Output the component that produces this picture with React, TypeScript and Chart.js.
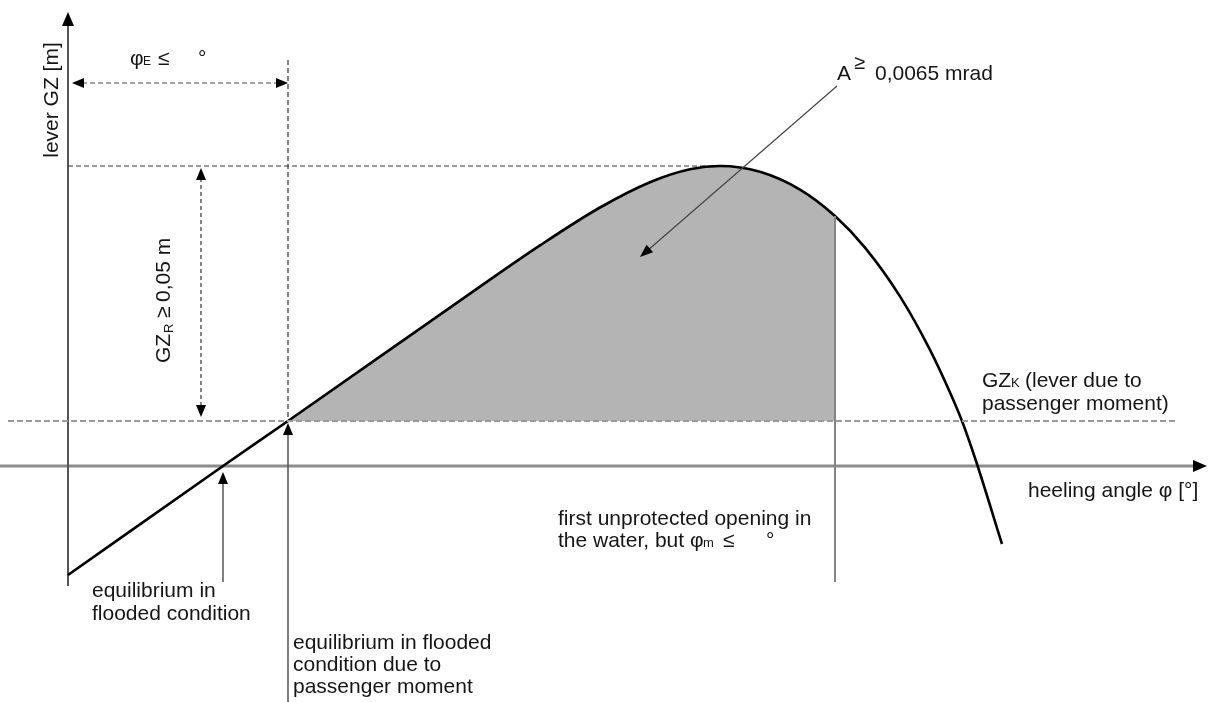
import React, { useEffect, useRef } from "react";
import { Chart, LineController, LineElement, PointElement, LinearScale, Filler } from "chart.js";

Chart.register(LineController, LineElement, PointElement, LinearScale);

// ---------- data (heeling angle in degrees, lever GZ in diagram units) ----------
const heelAngles = [0, 15.5, 22, 35.2, 41.2, 47.2, 53.2, 58.2, 62.2, 65.2, 69.2, 73.2, 76.7, 79.7, 83.2, 86.2, 88.2, 89.4, 90.8, 93.4];
const gzValues = [-1.09, 0, 0.45, 1.374, 1.794, 2.206, 2.585, 2.838, 2.967, 3.0, 2.942, 2.764, 2.5, 2.184, 1.696, 1.161, 0.735, 0.45, 0.05, -0.78];

const GZK_LEVEL = 0.45; // lever due to passenger moment
const PHI_0 = 15.5; // equilibrium in flooded condition
const PHI_E = 22; // equilibrium with passenger moment
const PHI_M = 76.7; // first unprotected opening
const GZ_MAX = 3.0;
const GZ_MAX_ANGLE = 65.2;

const X_MIN = -6.8;
const X_MAX = 114.1;
const Y_MIN = -2.36;
const Y_MAX = 4.66;

const FILL_INDEX = 1;

const FONT = '"Liberation Sans", Arial, Helvetica, sans-serif';
const font = (s: number) => `${s}px ${FONT}`;
const TEXT = "#151515";

function seg(ctx: CanvasRenderingContext2D, x1: number, y1: number, x2: number, y2: number, color: string, width: number, dash: number[] = []) {
  ctx.save();
  ctx.beginPath();
  ctx.setLineDash(dash);
  ctx.strokeStyle = color;
  ctx.lineWidth = width;
  ctx.moveTo(x1, y1);
  ctx.lineTo(x2, y2);
  ctx.stroke();
  ctx.restore();
}

function head(ctx: CanvasRenderingContext2D, tx: number, ty: number, dx: number, dy: number, len = 12, half = 5, color = "#000") {
  const n = Math.hypot(dx, dy);
  const ux = dx / n;
  const uy = dy / n;
  const bx = tx - ux * len;
  const by = ty - uy * len;
  ctx.save();
  ctx.beginPath();
  ctx.moveTo(tx, ty);
  ctx.lineTo(bx - uy * half, by + ux * half);
  ctx.lineTo(bx + uy * half, by - ux * half);
  ctx.closePath();
  ctx.fillStyle = color;
  ctx.fill();
  ctx.restore();
}

type Run = { t: string; at: number; size?: number; dy?: number };
function runs(ctx: CanvasRenderingContext2D, x: number, y: number, list: Run[]) {
  ctx.save();
  ctx.fillStyle = TEXT;
  ctx.textBaseline = "alphabetic";
  ctx.textAlign = "left";
  for (const r of list) {
    ctx.font = font(r.size ?? 21);
    ctx.fillText(r.t, x + r.at, y + (r.dy ?? 0));
  }
  ctx.restore();
}

const clipPlugin = {
  id: "areaClip",
  beforeDatasetDraw(chart: any, args: any) {
    if (args.index !== FILL_INDEX) return;
    const { ctx, chartArea } = chart;
    const x1 = chart.scales.x.getPixelForValue(PHI_E);
    const x2 = chart.scales.x.getPixelForValue(PHI_M);
    const yb = chart.scales.y.getPixelForValue(GZK_LEVEL);
    ctx.save();
    ctx.beginPath();
    ctx.rect(x1, chartArea.top, x2 - x1, yb - chartArea.top);
    ctx.clip();
  },
  afterDatasetDraw(chart: any, args: any) {
    if (args.index !== FILL_INDEX) return;
    chart.ctx.restore();
  },
};

const annotationPlugin = {
  id: "diagramAnnotations",
  beforeDatasetsDraw(chart: any) {
    const ctx: CanvasRenderingContext2D = chart.ctx;
    const X = (v: number) => chart.scales.x.getPixelForValue(v);
    const Y = (v: number) => chart.scales.y.getPixelForValue(v);
    // x axis
    seg(ctx, X(X_MIN), Y(0), X(113.9) - 10, Y(0), "#8c8c8c", 3);
    head(ctx, X(113.9), Y(0), 1, 0, 14, 6);
    // y axis
    seg(ctx, X(0), Y(-1.2), X(0), Y(4.54) + 10, "#555", 2);
    head(ctx, X(0), Y(4.54), 0, -1, 14, 6);
    // max lever dashed
    seg(ctx, X(0), Y(GZ_MAX), X(GZ_MAX_ANGLE), Y(GZ_MAX), "#333", 1.2, [5, 3]);
    // phi_E vertical dashed
    seg(ctx, X(PHI_E), Y(4.06), X(PHI_E), Y(GZK_LEVEL), "#333", 1.2, [5, 3]);
  },
  afterDatasetsDraw(chart: any) {
    const ctx: CanvasRenderingContext2D = chart.ctx;
    const X = (v: number) => chart.scales.x.getPixelForValue(v);
    const Y = (v: number) => chart.scales.y.getPixelForValue(v);

    // GZK dashed line
    seg(ctx, X(-6.0), Y(GZK_LEVEL), X(110.9), Y(GZK_LEVEL), "#9a9a9a", 2, [6, 3]);

    // first unprotected opening line
    const gzAtM = gzValues[heelAngles.indexOf(PHI_M)];
    seg(ctx, X(PHI_M), Y(gzAtM), X(PHI_M), Y(-1.16), "#858585", 2);

    // phi_E horizontal arrow
    seg(ctx, X(0) + 14, Y(3.83), X(PHI_E) - 12, Y(3.83), "#a5a5a5", 2, [5, 3]);
    head(ctx, X(0) + 4, Y(3.83), -1, 0, 12, 5);
    head(ctx, X(PHI_E), Y(3.83), 1, 0, 12, 5);

    // GZR vertical arrow
    const gx = X(13.3);
    seg(ctx, gx, Y(GZ_MAX) + 12, gx, Y(GZK_LEVEL) - 14, "#333", 1.2, [4, 3]);
    head(ctx, gx, Y(GZ_MAX) + 2, 0, -1, 12, 5);
    head(ctx, gx, Y(GZK_LEVEL) - 4, 0, 1, 12, 5);

    // equilibrium arrows
    seg(ctx, X(PHI_0), Y(-1.16), X(PHI_0), Y(0) + 14, "#555", 1.5);
    head(ctx, X(PHI_0), Y(0) + 6, 0, -1, 12, 5);
    seg(ctx, X(PHI_E), Y(Y_MIN), X(PHI_E), Y(GZK_LEVEL) + 12, "#555", 1.5);
    head(ctx, X(PHI_E), Y(GZK_LEVEL) + 2, 0, -1, 12, 5);

    // area leader
    const ax1 = X(76.9), ay1 = Y(3.8), ax2 = X(57.2), ay2 = Y(2.09);
    const dx = ax2 - ax1, dy = ay2 - ay1;
    const n = Math.hypot(dx, dy);
    seg(ctx, ax1, ay1, ax2 - (dx / n) * 10, ay2 - (dy / n) * 10, "#444", 1.2);
    head(ctx, ax2, ay2, dx, dy, 13, 5);

    // ---------- texts ----------
    // y axis title
    ctx.save();
    ctx.translate(X(-1.0), Y(3.66));
    ctx.rotate(-Math.PI / 2);
    ctx.font = font(21);
    ctx.fillStyle = TEXT;
    ctx.textAlign = "center";
    ctx.textBaseline = "alphabetic";
    ctx.fillText("lever GZ [m]", 0, 0);
    ctx.restore();

    // GZR label (rotated)
    ctx.save();
    ctx.translate(X(10.2), Y(1.03));
    ctx.rotate(-Math.PI / 2);
    runs(ctx, 0, 0, [
      { t: "GZ", at: 0 },
      { t: "R", at: 30, size: 13, dy: 3 },
      { t: "≥", at: 45 },
      { t: "0,05 m", at: 61 },
    ]);
    ctx.restore();

    // phi_E label
    runs(ctx, X(6.2), Y(4.01), [
      { t: "φ", at: 0 },
      { t: "E", at: 13, size: 12 },
      { t: "≤", at: 28 },
      { t: "°", at: 68 },
    ]);

    // area label
    runs(ctx, X(76.9), Y(3.86), [
      { t: "A", at: 0 },
      { t: "≥", at: 17, size: 20, dy: -11 },
      { t: "0,0065 mrad", at: 38 },
    ]);

    // GZK label
    runs(ctx, X(91.4), Y(0.79), [
      { t: "GZ", at: 0 },
      { t: "K", at: 29, size: 13 },
      { t: "(lever due to", at: 43 },
    ]);
    runs(ctx, X(91.4), Y(0.56), [{ t: "passenger moment)", at: 0 }]);

    // x axis title
    runs(ctx, X(96.0), Y(-0.31), [{ t: "heeling angle φ [°]", at: 0 }]);

    // first unprotected opening
    runs(ctx, X(49.0), Y(-0.59), [{ t: "first unprotected opening in", at: 0 }]);
    runs(ctx, X(49.0), Y(-0.81), [
      { t: "the water, but", at: 0 },
      { t: "φ", at: 132 },
      { t: "m", at: 145, size: 13 },
      { t: "≤", at: 165 },
      { t: "°", at: 208 },
    ]);

    // equilibrium labels
    runs(ctx, X(2.4), Y(-1.31), [{ t: "equilibrium in", at: 0 }]);
    runs(ctx, X(2.4), Y(-1.54), [{ t: "flooded condition", at: 0 }]);
    runs(ctx, X(22.5), Y(-1.83), [{ t: "equilibrium in flooded", at: 0 }]);
    runs(ctx, X(22.5), Y(-2.05), [{ t: "condition due to", at: 0 }]);
    runs(ctx, X(22.5), Y(-2.27), [{ t: "passenger moment", at: 0 }]);
  },
};

export default function App() {
  const ref = useRef<HTMLCanvasElement>(null);
  useEffect(() => {
    document.body.style.margin = "0";
    const curve = heelAngles.map((x, i) => ({ x, y: gzValues[i] }));
    const chart = new Chart(ref.current as HTMLCanvasElement, {
      type: "line",
      data: {
        datasets: [
          {
            data: curve,
            borderColor: "#000",
            borderWidth: 2.6,
            pointRadius: 0,
            fill: false,
            cubicInterpolationMode: "monotone",
          },
          {
            data: curve,
            borderColor: "rgba(0,0,0,0)",
            borderWidth: 0,
            pointRadius: 0,
            backgroundColor: "#b4b4b4",
            fill: { target: { value: GZK_LEVEL }, above: "#b4b4b4", below: "rgba(0,0,0,0)" },
            cubicInterpolationMode: "monotone",
          },
        ],
      } as any,
      options: {
        animation: false,
        responsive: false,
        events: [],
        layout: { padding: 0 },
        scales: {
          x: { type: "linear", min: X_MIN, max: X_MAX, display: false },
          y: { type: "linear", min: Y_MIN, max: Y_MAX, display: false },
        },
        plugins: {
          filler: { propagate: false, drawTime: "beforeDatasetDraw" },
        } as any,
      },
      plugins: [clipPlugin as any, Filler as any, annotationPlugin as any],
    });
    return () => chart.destroy();
  }, []);
  return (
    <div style={{ width: 1209, height: 702, background: "#fff" }}>
      <canvas ref={ref} width={1209} height={702} style={{ display: "block" }} />
    </div>
  );
}
